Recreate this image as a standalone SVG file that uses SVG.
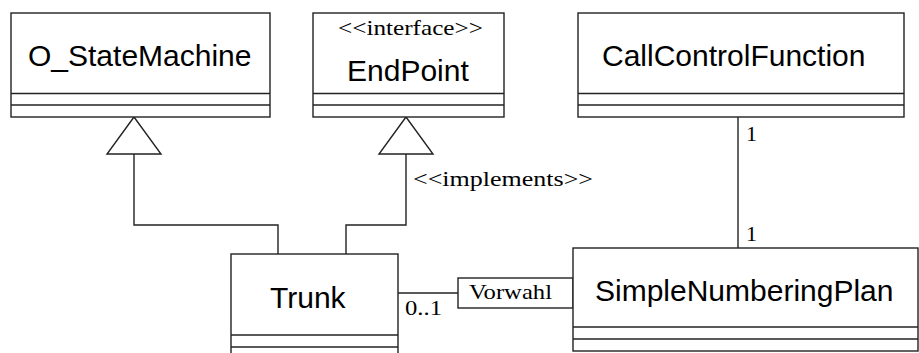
<svg xmlns="http://www.w3.org/2000/svg" width="919" height="353" viewBox="0 0 919 353">
  <style>
    .box { fill: #fff; stroke: #222; stroke-width: 1.4; }
    .sep { stroke: #222; stroke-width: 1.4; }
    .edge { fill: none; stroke: #222; stroke-width: 1.4; }
    .head { fill: #fff; stroke: #222; stroke-width: 1.4; }
    .name { font-family: "Liberation Sans", Arial, sans-serif; font-size: 30px; fill: #000; }
    .lbl { font-family: "Liberation Serif", "Times New Roman", serif; font-size: 22px; fill: #000; }
  </style>
  <rect width="919" height="353" fill="#fff"/>

  <g id="connectors">
    <!-- generalization Trunk -> O_StateMachine -->
    <polyline class="edge" points="278,254 278,225 134,225 134,154"/>
    <polygon class="head" points="134,117 107,154 161,154"/>
    <!-- realization Trunk -> EndPoint -->
    <polyline class="edge" points="346,254 346,225 406,225 406,154"/>
    <polygon class="head" points="406,117 379,154 433,154"/>
    <text class="lbl" x="413" y="186" textLength="180" lengthAdjust="spacingAndGlyphs">&lt;&lt;implements&gt;&gt;</text>
    <!-- association CallControlFunction - SimpleNumberingPlan -->
    <line class="edge" x1="738" y1="117" x2="738" y2="248"/>
    <text class="lbl" x="746" y="141">1</text>
    <text class="lbl" x="746" y="241">1</text>
    <!-- qualified association Trunk - SimpleNumberingPlan -->
    <line class="edge" x1="398" y1="293" x2="458" y2="293"/>
    <rect class="box" x="458" y="278" width="115" height="30"/>
    <text class="lbl" x="469" y="299" textLength="83" lengthAdjust="spacingAndGlyphs">Vorwahl</text>
    <text class="lbl" x="405" y="315" textLength="37" lengthAdjust="spacingAndGlyphs">0..1</text>
  </g>

  <g id="O_StateMachine">
    <rect class="box" x="11" y="13" width="259" height="104"/>
    <line class="sep" x1="11" y1="93.5" x2="270" y2="93.5"/>
    <line class="sep" x1="11" y1="105" x2="270" y2="105"/>
    <text class="name" x="28" y="66">O_StateMachine</text>
  </g>

  <g id="EndPoint">
    <rect class="box" x="313" y="13" width="191" height="104"/>
    <line class="sep" x1="313" y1="93.5" x2="504" y2="93.5"/>
    <line class="sep" x1="313" y1="105" x2="504" y2="105"/>
    <text class="lbl" x="338" y="35" textLength="145" lengthAdjust="spacingAndGlyphs">&lt;&lt;interface&gt;&gt;</text>
    <text class="name" x="347" y="81">EndPoint</text>
  </g>

  <g id="CallControlFunction">
    <rect class="box" x="578" y="13" width="326" height="104"/>
    <line class="sep" x1="578" y1="93.5" x2="904" y2="93.5"/>
    <line class="sep" x1="578" y1="105" x2="904" y2="105"/>
    <text class="name" x="602" y="66">CallControlFunction</text>
  </g>

  <g id="Trunk">
    <rect class="box" x="231" y="254" width="167" height="110"/>
    <line class="sep" x1="231" y1="335" x2="398" y2="335"/>
    <line class="sep" x1="231" y1="347" x2="398" y2="347"/>
    <text class="name" x="270" y="308">Trunk</text>
  </g>

  <g id="SimpleNumberingPlan">
    <rect class="box" x="573" y="248" width="345" height="103"/>
    <line class="sep" x1="573" y1="327" x2="918" y2="327"/>
    <line class="sep" x1="573" y1="339" x2="918" y2="339"/>
    <text class="name" x="595" y="301">SimpleNumberingPlan</text>
  </g>
</svg>
